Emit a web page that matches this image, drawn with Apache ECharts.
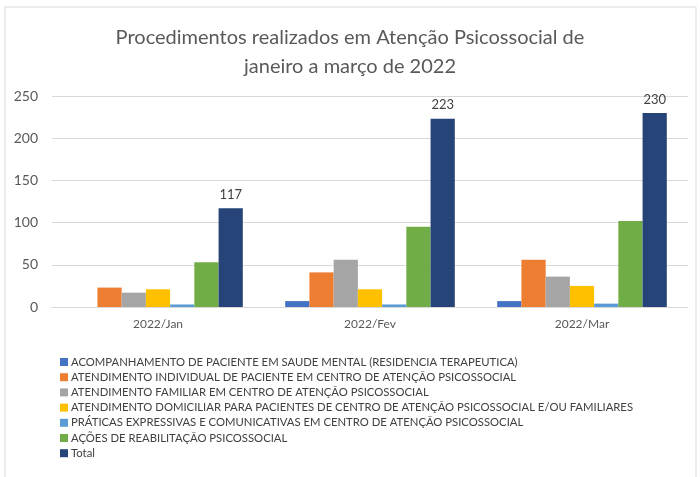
<!DOCTYPE html>
<html lang="pt">

<head>
    <meta charset="UTF-8">
    <title>Procedimentos Atenção Psicossocial</title>
    <script src="https://cdn.jsdelivr.net/npm/echarts@6/dist/echarts.min.js"></script>
    <style>
        body { margin: 0; background: #fff; }
    </style>
</head>

<body>

    <div id="chart" style="width: 700px; height: 477px"></div>

    <script>
        var months = ['2022/Jan', '2022/Fev', '2022/Mar'];

        var seriesNames = [
            'ACOMPANHAMENTO DE PACIENTE EM SAUDE MENTAL (RESIDENCIA TERAPEUTICA)',
            'ATENDIMENTO INDIVIDUAL DE PACIENTE EM CENTRO DE ATENÇÃO PSICOSSOCIAL',
            'ATENDIMENTO FAMILIAR EM CENTRO DE ATENÇÃO PSICOSSOCIAL',
            'ATENDIMENTO DOMICILIAR PARA PACIENTES DE CENTRO DE ATENÇÃO PSICOSSOCIAL E/OU FAMILIARES',
            'PRÁTICAS EXPRESSIVAS E COMUNICATIVAS EM CENTRO DE ATENÇÃO PSICOSSOCIAL',
            'AÇÕES DE REABILITAÇÃO PSICOSSOCIAL',
            'Total'
        ];

        // one array per series, Jan / Fev / Mar
        var acompanhamento = [0, 7, 7];
        var individual = [23, 41, 56];
        var familiar = [17, 56, 36];
        var domiciliar = [21, 21, 25];
        var praticas = [3, 3, 4];
        var reabilitacao = [53, 95, 102];
        var total = [117, 223, 230];

        var colors = ['#4472C4', '#ED7D31', '#A5A5A5', '#FFC000', '#5B9BD5', '#70AD47', '#264478'];

        var values = [acompanhamento, individual, familiar, domiciliar, praticas, reabilitacao, total];

        var series = [];
        for (var i = 0; i < seriesNames.length; i++) {
            var s = {
                name: seriesNames[i],
                type: 'bar',
                barGap: '0%',
                barCategoryGap: '20%',
                data: values[i]
            };
            if (seriesNames[i] == 'Total') {
                s.label = {
                    show: true,
                    position: 'top',
                    distance: 7,
                    fontSize: 13,
                    color: '#404040',
                    fontFamily: 'Lato'
                };
            }
            series.push(s);
        }

        var chart = echarts.init(document.getElementById('chart'));

        chart.setOption({
            animation: false,
            color: colors,
            textStyle: { fontFamily: 'Lato' },
            graphic: [{
                type: 'rect',
                shape: { x: 5, y: 7, width: 691, height: 480 },
                style: { fill: 'none', stroke: '#d9d9d9', lineWidth: 1 },
                silent: true
            }],
            title: {
                text: 'Procedimentos realizados em Atenção Psicossocial de\njaneiro a março de 2022',
                left: 'center',
                top: 18,
                textStyle: {
                    fontSize: 20,
                    fontWeight: 'normal',
                    color: '#595959',
                    lineHeight: 29,
                    fontFamily: 'Lato'
                }
            },
            legend: {
                orient: 'vertical',
                left: 55,
                top: 351,
                itemWidth: 8,
                itemHeight: 8,
                itemGap: 3.2,
                icon: 'rect',
                textStyle: {
                    fontSize: 11.3,
                    lineHeight: 12,
                    color: '#404040',
                    padding: [0, 0, 0, -2]
                },
                data: seriesNames
            },
            grid: {
                left: 52,
                right: 12,
                top: 96,
                bottom: 170
            },
            xAxis: {
                type: 'category',
                data: months,
                axisTick: { show: false },
                axisLine: { lineStyle: { color: '#d9d9d9' } },
                axisLabel: { color: '#595959', fontSize: 12, margin: 11 }
            },
            yAxis: {
                type: 'value',
                min: 0,
                max: 250,
                interval: 50,
                axisLabel: { color: '#595959', fontSize: 14, margin: 14 },
                splitLine: { lineStyle: { color: '#d9d9d9' } }
            },
            series: series
        });
    </script>

</body>

</html>
